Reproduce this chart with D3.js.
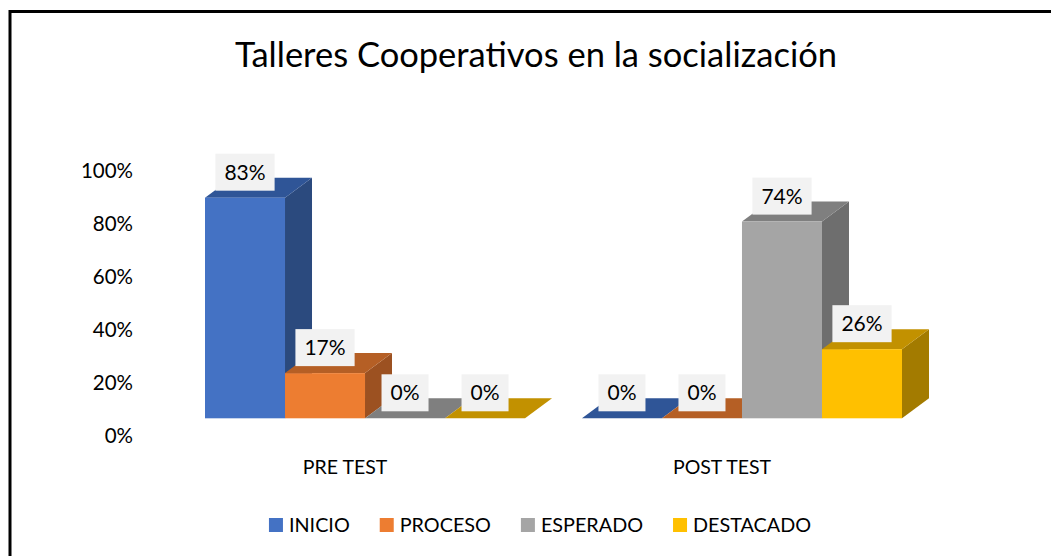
<!DOCTYPE html>
<html>
<head>
<meta charset="utf-8">
<script src="https://cdn.jsdelivr.net/npm/d3@7"></script>
<style>
  body { margin: 0; background: #fff; }
  svg text { font-family: Lato, "Liberation Sans", sans-serif; fill: #000; }
</style>
</head>
<body>
<svg id="grafico" width="1051" height="556"></svg>
<script>
// datos
var categorias = ["PRE TEST", "POST TEST"];
var series = ["INICIO", "PROCESO", "ESPERADO", "DESTACADO"];
var inicio = [0.83, 0];
var proceso = [0.17, 0];
var esperado = [0, 0.74];
var destacado = [0, 0.26];
var ticks_y = [0, 0.2, 0.4, 0.6, 0.8, 1];

var valores = [inicio, proceso, esperado, destacado];
// colores: frente, tapa, lado
var colores = {
  "INICIO":    ["#4472C4", "#2F5597", "#2B4A7E"],
  "PROCESO":   ["#ED7D31", "#B55F25", "#9C5121"],
  "ESPERADO":  ["#A5A5A5", "#7F7F7F", "#6E6E6E"],
  "DESTACADO": ["#FFC000", "#C29100", "#A37B00"]
};

var svg = d3.select("#grafico");
var prof = {dx: 27, dy: -20}; // profundidad del efecto 3D

// marco
svg.append("rect")
  .attr("x", 10).attr("y", 11.5)
  .attr("width", 1100).attr("height", 600)
  .attr("fill", "none").attr("stroke", "#000").attr("stroke-width", 3);

// titulo
svg.append("text")
  .attr("x", 536).attr("y", 67)
  .attr("text-anchor", "middle")
  .style("font-size", "34.5px")
  .text("Talleres Cooperativos en la socialización");

//******************** ESCALAS ********************//
var x0 = d3.scaleBand()
  .domain(categorias)
  .range([205, 902])
  .paddingInner(0.151);

var x1 = d3.scaleBand()
  .domain(series)
  .range([0, x0.bandwidth()]);

var y = d3.scaleLinear()
  .domain([0, 1])
  .range([418.3, 152.5]);

//******************** EJE Y ********************//
var ejeY = d3.axisLeft(y)
  .tickValues(ticks_y)
  .tickFormat(d3.format(".0%"))
  .tickSize(0)
  .tickPadding(0);

var gy = svg.append("g")
  .attr("transform", "translate(133,18)")
  .call(ejeY);
gy.select(".domain").remove();
gy.selectAll("text")
  .style("font-size", "20.5px")
  .style("font-family", "Lato, sans-serif")
  .attr("fill", "#000");

//******************** BARRAS ********************//
var barras = [];
categorias.forEach(function(c, i) {
  series.forEach(function(s, j) {
    barras.push({cat: c, serie: s, valor: valores[j][i]});
  });
});

var w = x1.bandwidth();
var gb = svg.append("g").attr("class", "barras");

barras.forEach(function(d) {
  var x = x0(d.cat) + x1(d.serie);
  var yt = y(d.valor), yb = y(0);
  var col = colores[d.serie];
  // lado derecho
  gb.append("polygon")
    .attr("points", [[x + w, yt], [x + w + prof.dx, yt + prof.dy], [x + w + prof.dx, yb + prof.dy], [x + w, yb]].join(" "))
    .attr("fill", col[2]);
  // tapa
  gb.append("polygon")
    .attr("points", [[x, yt], [x + prof.dx, yt + prof.dy], [x + w + prof.dx, yt + prof.dy], [x + w, yt]].join(" "))
    .attr("fill", col[1]);
  // frente
  gb.append("rect")
    .attr("x", x).attr("y", yt)
    .attr("width", w).attr("height", yb - yt)
    .attr("fill", col[0]);
});

// etiquetas de valor
barras.forEach(function(d) {
  var cx = x0(d.cat) + x1(d.serie) + w / 2;
  var yb = y(d.valor) - 7;
  var g = svg.append("g");
  var caja = g.append("rect").attr("fill", "#F2F2F2");
  var t = g.append("text")
    .attr("x", cx).attr("y", yb - 11)
    .attr("text-anchor", "middle")
    .style("font-size", "21px")
    .text(d3.format(".0%")(d.valor));
  var ancho = t.node().getComputedTextLength() + 18;
  caja.attr("x", cx - ancho / 2).attr("y", yb - 37)
    .attr("width", ancho).attr("height", 37);
});

// etiquetas de categoria
categorias.forEach(function(c) {
  svg.append("text")
    .attr("x", x0(c) + x0.bandwidth() / 2 - 20)
    .attr("y", 474)
    .attr("text-anchor", "middle")
    .style("font-size", "19.5px")
    .text(c);
});

//******************** LEYENDA ********************//
var ley = svg.append("g");
var pos = 0;
series.forEach(function(s) {
  ley.append("rect")
    .attr("x", pos).attr("y", 518)
    .attr("width", 14).attr("height", 14)
    .attr("fill", colores[s][0]);
  var t = ley.append("text")
    .attr("x", pos + 20).attr("y", 532)
    .style("font-size", "19.8px")
    .text(s);
  pos = pos + 20 + t.node().getComputedTextLength() + 30;
});
var total = pos - 30;
ley.attr("transform", "translate(" + (540 - total / 2) + ",0)");
</script>
</body>
</html>
